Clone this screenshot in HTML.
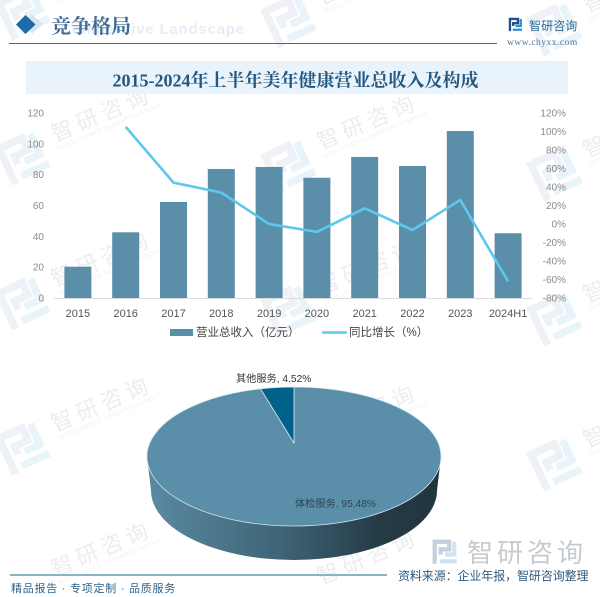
<!DOCTYPE html>
<html lang="zh">
<head>
<meta charset="utf-8">
<title>2015-2024年上半年美年健康营业总收入及构成</title>
<style>
html,body{margin:0;padding:0;background:#fff;width:600px;height:597px;overflow:hidden}
#chart{display:block;width:600px;height:597px}
text{font-family:"Liberation Sans","Noto Sans CJK SC",sans-serif}
.serif{font-family:"Liberation Serif","Noto Serif CJK SC",serif}
</style>
</head>
<body>
<svg id="chart" xmlns="http://www.w3.org/2000/svg" width="600" height="597" viewBox="0 0 600 597">
<defs>
<linearGradient id="pieSide" x1="0" x2="1" y1="0" y2="0">
<stop offset="0" stop-color="#5b8aa3"/>
<stop offset="0.45" stop-color="#3f6577"/>
<stop offset="0.8" stop-color="#243a45"/>
<stop offset="1" stop-color="#22353f"/>
</linearGradient>
<path id="logoA" d="M2 28V2H19V11H9V17" fill="none" stroke-width="5"/>
<path id="logoB" d="M25 2V17H14M8 25H28" fill="none" stroke-width="5"/>
</defs>
<rect width="600" height="597" fill="#ffffff"/>
<g id="watermarks"></g>

<g>
<path d="M32 14.500L43 24L32 33.500L21 24Z" fill="#d5e6f3"/>
<path d="M25.500 15L35.500 24.500L25.500 34L16 24.500Z" fill="#1c6ba6"/>
<text x="152.500" y="34" font-size="15" font-weight="bold" fill="#e4eef7" letter-spacing="0.770" text-anchor="middle">Competitive Landscape</text>
<text class="serif" x="51" y="33" font-size="20" font-weight="bold" fill="#3f6b94">竞争格局</text>
<rect x="9" y="43" width="488" height="1" fill="#2f6f8f"/>
<g transform="translate(509,18) scale(0.47)">
<use href="#logoA" stroke="#1f4f8f"/><use href="#logoB" stroke="#2f8fd0"/>
</g>
<text x="529" y="30" font-size="12" fill="#2c6a95" letter-spacing="0.100">智研咨询</text>
<text class="serif" x="507" y="45" font-size="9.500" fill="#4b7b9a" letter-spacing="0.500">www.chyxx.com</text>
</g>

<rect x="26" y="61" width="542" height="33" fill="#e8f3fb"/>
<text class="serif" x="295.500" y="86.500" font-size="18" font-weight="bold" fill="#25577f" text-anchor="middle">2015-2024年上半年美年健康营业总收入及构成</text>

<g id="combo"></g>

<g>
<rect x="170" y="329" width="23" height="7" fill="#5b8ea8"/>
<text x="196" y="336" font-size="11.500" fill="#444">营业总收入（亿元）</text>
<line x1="322" x2="347" y1="332.500" y2="332.500" stroke="#5cc8ee" stroke-width="2.500"/>
<text x="349" y="336" font-size="11.500" fill="#444">同比增长（%）</text>
</g>

<g id="pie"></g>

<g>
<g transform="translate(433,540) scale(0.85)">
<use href="#logoA" stroke="#c5d0de"/><use href="#logoB" stroke="#cfe3f2"/>
</g>
<text x="467" y="562" font-size="26" fill="#c6cbd0" letter-spacing="4">智研咨询</text>
</g>

<g>
<rect x="10" y="574" width="377" height="2" fill="#8ab3c6"/>
<text x="11" y="592" font-size="11" fill="#2e6287" letter-spacing="0.750">精品报告 · 专项定制 · 品质服务</text>
<text x="398" y="580" font-size="12" fill="#2f5a7e" letter-spacing="-0.100">资料来源：企业年报，智研咨询整理</text>
</g>
</svg>

<script>
const categories = ['2015','2016','2017','2018','2019','2020','2021','2022','2023','2024H1'];
const revenueValues = [20.3,42.6,62.3,83.7,85,78,91.5,85.6,108.3,42];
const growthValues = [null,105,44.7,34,0,-8.6,17,-6.5,26,-62];
const leftTicks = [0,20,40,60,80,100,120];
const rightTicks = [-80,-60,-40,-20,0,20,40,60,80,100,120];
const pieLabels = ['体检服务','其他服务'];
const pieShares = [95.48,4.52];

const NS = 'http://www.w3.org/2000/svg';
function mk(parent, tag, attrs, txt){
  const el = document.createElementNS(NS, tag);
  for (const k in attrs) el.setAttribute(k, attrs[k]);
  if (txt !== undefined) el.textContent = txt;
  parent.appendChild(el);
  return el;
}

/* watermark tiles: pieces that would cross the bottom edge are left out */
const wm = document.getElementById('watermarks');
for (let r = -1; r < 4; r++) {
  for (let c = 0; c < 3; c++) {
    const lx = 25 + c * 266;
    const ly = 158 + c * 8 + r * 145;
    const g = mk(wm, 'g', {transform: 'translate(' + lx + ',' + ly + ')'});
    
    
    if (ly + 32 < 597) {
      const lg = mk(g, 'g', {transform: 'rotate(-25) scale(1.500) translate(-15,-15)'});
      
      
      mk(lg, 'use', {href: '#logoA', stroke: '#eef1f5'});
      mk(lg, 'use', {href: '#logoB', stroke: '#e8f3fa'});
    }
    if (ly < 603) {
      const t = mk(g, 'text', {x: 0, y: 0, 'font-size': 22, fill: '#ebedf0', 'letter-spacing': 5, transform: 'translate(30,-16) rotate(-23)'}, '智研咨询');
      
      
    }
    if (ly < 597) {
      const st = mk(g, 'text', {x: 0, y: 9, 'font-size': 6, fill: '#eef0f2', 'letter-spacing': 0.4, transform: 'translate(30,-16) rotate(-23)'}, 'INTELLIGENCE RESEARCH GROUP');
      
      
    }
  }
}

/* combo chart */
const combo = document.getElementById('combo');
const plotL = 54, plotR = 532, plotT = 113, plotB = 298;
const band = (plotR - plotL) / categories.length;
const xPos = i => plotL + (i + 0.5) * band;
const yLeft = v => plotB - (v - 0) / (120 - 0) * (plotB - plotT);
const yRight = v => plotB - (v + 80) / (120 + 80) * (plotB - plotT);

const barW = 27;
revenueValues.forEach((v, i) => {
  const b = mk(combo, 'rect', {x: xPos(i) - barW / 2, y: yLeft(v), width: barW, height: plotB - yLeft(v), fill: '#5b8ea8'});
  
  
});
const axis = mk(combo, 'line', {x1: plotL, x2: plotR, y1: plotB + 0.5, y2: plotB + 0.5, stroke: '#d9dde0', 'stroke-width': 1});



leftTicks.forEach(v => {
  const t = mk(combo, 'text', {x: 44, y: yLeft(v) + 3.5, 'font-size': 10, fill: '#8a8a8a', 'text-anchor': 'end'}, String(v));
  
  
});
rightTicks.forEach(v => {
  const t = mk(combo, 'text', {x: 566, y: yRight(v) + 3.5, 'font-size': 10, fill: '#8a8a8a', 'text-anchor': 'end'}, v + '%');
  
  
});
categories.forEach((c, i) => {
  const t = mk(combo, 'text', {x: xPos(i), y: 317, 'font-size': 11, fill: '#555', 'text-anchor': 'middle'}, c);
  
  
});

let linePts = [];
growthValues.forEach((v, i) => { if (v !== null) linePts.push(xPos(i) + ',' + yRight(v)); });
const growthLine = mk(combo, 'polyline', {points: linePts.join(' '), fill: 'none', stroke: '#5cc8ee', 'stroke-width': 2.6, 'stroke-linejoin': 'round'});



/* 3D pie */
const pie = document.getElementById('pie');
const cx = 294, cy = 456.5, rx = 147, ry = 69.5, depth = 34, apexY = 443, baseRx = 143;
function rim(frac){
  /* ray from the off-centre apex to the perspective ellipse */
  const a = frac * 2 * Math.PI;
  const dx = Math.sin(a), dy = -Math.cos(a);
  const off = apexY - cy;
  const A = dx * dx + dy * dy;
  const B = 2 * dy * off / ry;
  const C = off * off / (ry * ry) - 1;
  const t = (-B + Math.sqrt(B * B - 4 * A * C)) / (2 * A);
  return [cx + t * dx * rx, apexY + t * dy * ry];
}
const side = mk(pie, 'path', {d: 'M' + (cx - rx) + ' ' + cy + 'L' + (cx - baseRx) + ' ' + (cy + depth) + 'A' + baseRx + ' ' + ry + ' 0 0 0 ' + (cx + baseRx) + ' ' + (cy + depth) + 'L' + (cx + rx) + ' ' + cy + 'Z', fill: 'url(#pieSide)'});


const sliceColors = ['#5b8ea8', '#00618a'];
const total = pieShares.reduce((s, v) => s + v, 0);
let run = 0;
pieShares.forEach((v, i) => {
  const s = rim(run / total);
  const e = rim((run + v) / total);
  const large = v / total > 0.5 ? 1 : 0;
  const d = 'M' + cx + ' ' + apexY + 'L' + s[0] + ' ' + s[1] + 'A' + rx + ' ' + ry + ' 0 ' + large + ' 1 ' + e[0] + ' ' + e[1] + 'Z';
  const p = mk(pie, 'path', {d: d, fill: sliceColors[i], stroke: '#cfe6f0', 'stroke-width': 0.8, 'stroke-linejoin': 'round'});
  
  
  run += v;
});
const pieLabelX = [295, 236];
const pieLabelY = [507, 382];
pieShares.forEach((v, i) => {
  const t = mk(pie, 'text', {x: pieLabelX[i], y: pieLabelY[i], 'font-size': 10.2, fill: i === 0 ? '#2c4654' : '#333'}, pieLabels[i] + ', ' + v.toFixed(2) + '%');
  
  
});
</script>
</body>
</html>
